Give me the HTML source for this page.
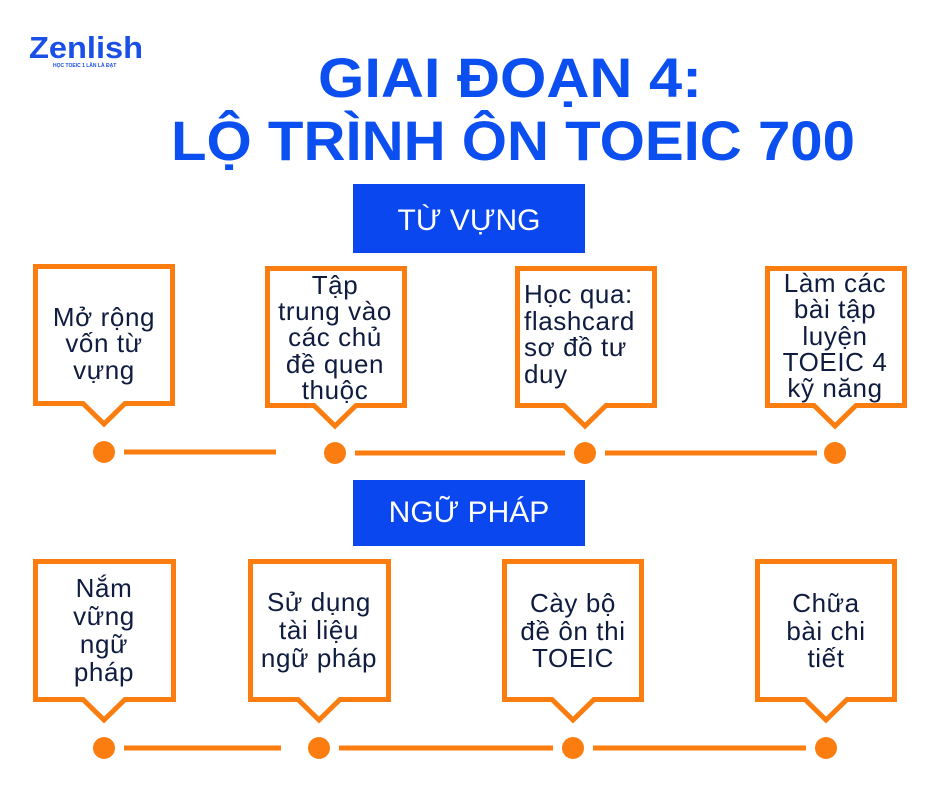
<!DOCTYPE html>
<html><head><meta charset="utf-8"><style>
html,body{margin:0;padding:0;background:#fff;}
svg{display:block;}
text{font-family:"Liberation Sans",sans-serif;}
.t{font-size:26px;fill:#0f1c3f;text-anchor:middle;letter-spacing:0.6px;}
.b{fill:#fff;stroke:#fb7d10;stroke-width:5;}
.l{stroke:#fb7d10;stroke-width:5;}
.d{fill:#fb7d10;}
</style></head><body>
<svg width="940" height="788" viewBox="0 0 940 788" xmlns="http://www.w3.org/2000/svg">
<rect width="940" height="788" fill="#fff"/>
<text x="29" y="58" font-size="31" font-weight="bold" fill="#1a4fe8" textLength="114" lengthAdjust="spacingAndGlyphs">Zenlish</text>
<text x="53" y="67" font-size="5" font-weight="bold" fill="#1a4fe8">HỌC TOEIC 1 LẦN LÀ ĐẠT</text>
<text x="510" y="97" font-size="56" font-weight="bold" fill="#0b4ff0" text-anchor="middle" textLength="384" lengthAdjust="spacingAndGlyphs">GIAI ĐOẠN 4:</text>
<text x="513" y="160" font-size="56" font-weight="bold" fill="#0b4ff0" text-anchor="middle" textLength="684" lengthAdjust="spacingAndGlyphs">LỘ TRÌNH ÔN TOEIC 700</text>
<rect x="353" y="184" width="232" height="69" fill="#0b47ee"/>
<text x="469" y="230" font-size="30" fill="#fff" text-anchor="middle">TỪ VỰNG</text>
<rect x="353" y="480" width="232" height="66" fill="#0b47ee"/>
<text x="469" y="522" font-size="30" fill="#fff" text-anchor="middle">NGỮ PHÁP</text>

<!-- row1 -->
<path class="b" d="M35.5,266.5 H172.5 V403.5 H125 L104,424 L83,403.5 H35.5 Z"/>
<path class="b" d="M267.5,268.5 H404.5 V405.5 H356 L335,426 L314,405.5 H267.5 Z"/>
<path class="b" d="M517.5,268.5 H654.5 V405.5 H606 L585,426 L564,405.5 H517.5 Z"/>
<path class="b" d="M767.5,268.5 H904.5 V405.5 H856 L835,426 L814,405.5 H767.5 Z"/>
<g class="t">
<text x="104" y="326">Mở rộng</text><text x="104" y="352">vốn từ</text><text x="104" y="379">vựng</text>
<text x="335" y="294">Tập</text><text x="335" y="320">trung vào</text><text x="335" y="346">các chủ</text><text x="335" y="373">đề quen</text><text x="335" y="399">thuộc</text>
<text x="524" y="303" text-anchor="start">Học qua:</text><text x="524" y="330" text-anchor="start">flashcard</text><text x="524" y="356" text-anchor="start">sơ đồ tư</text><text x="524" y="383" text-anchor="start">duy</text>
<text x="835" y="292">Làm các</text><text x="835" y="318">bài tập</text><text x="835" y="345">luyện</text><text x="835" y="371">TOEIC 4</text><text x="835" y="397">kỹ năng</text>
</g>
<circle class="d" cx="104" cy="452" r="11"/><circle class="d" cx="335" cy="453" r="11"/><circle class="d" cx="585" cy="453" r="11"/><circle class="d" cx="835" cy="453" r="11"/>
<line class="l" x1="124" y1="452" x2="276" y2="452"/><line class="l" x1="355" y1="453" x2="565" y2="453"/><line class="l" x1="605" y1="453" x2="817" y2="453"/>

<!-- row2 -->
<path class="b" d="M35.5,561.5 H173.5 V699.5 H125 L104,720 L83,699.5 H35.5 Z"/>
<path class="b" d="M250.5,561.5 H388.5 V699.5 H340 L319,720 L298,699.5 H250.5 Z"/>
<path class="b" d="M504.5,561.5 H641.5 V699.5 H594 L573,720 L552,699.5 H504.5 Z"/>
<path class="b" d="M757.5,561.5 H894.5 V699.5 H847 L826,720 L805,699.5 H757.5 Z"/>
<g class="t">
<text x="104" y="597">Nắm</text><text x="104" y="625">vững</text><text x="104" y="653">ngữ</text><text x="104" y="681">pháp</text>
<text x="319" y="611">Sử dụng</text><text x="319" y="639">tài liệu</text><text x="319" y="667">ngữ pháp</text>
<text x="573" y="612">Cày bộ</text><text x="573" y="640">đề ôn thi</text><text x="573" y="667">TOEIC</text>
<text x="826" y="612">Chữa</text><text x="826" y="640">bài chi</text><text x="826" y="667">tiết</text>
</g>
<circle class="d" cx="104" cy="748" r="11"/><circle class="d" cx="319" cy="748" r="11"/><circle class="d" cx="573" cy="748" r="11"/><circle class="d" cx="826" cy="748" r="11"/>
<line class="l" x1="124" y1="748" x2="281" y2="748"/><line class="l" x1="339" y1="748" x2="553" y2="748"/><line class="l" x1="593" y1="748" x2="806" y2="748"/>
</svg>
</body></html>
